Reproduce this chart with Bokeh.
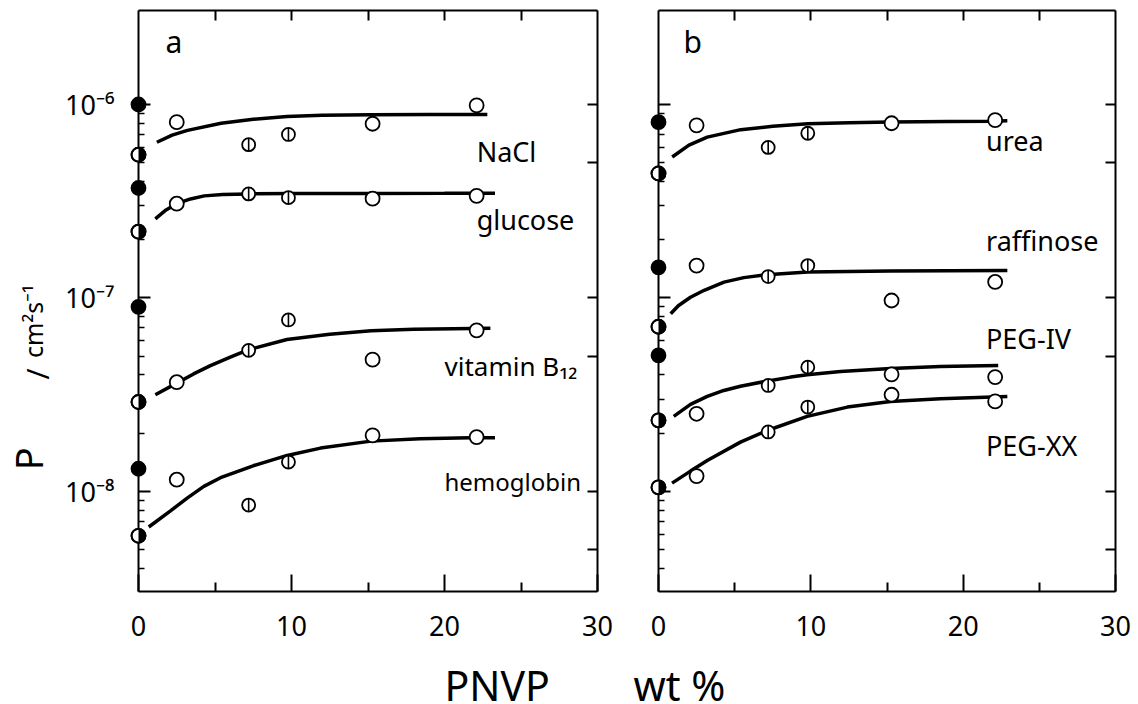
import math
from bokeh.plotting import figure
from bokeh.models import FixedTicker, LogAxis, LinearAxis, CustomJSTickFormatter
from bokeh.core.properties import value
from bokeh.layouts import row
from bokeh.embed import file_html
from bokeh.resources import INLINE

# ---------------- data ----------------
pnvp_wt = [2.5, 7.2, 9.8, 15.3, 22.1]                  # PNVP wt %
point_kind = ["open", "theta", "theta", "open", "open"]

# panel a
nacl_P = [8.1e-7, 6.2e-7, 7.0e-7, 7.95e-7, 9.9e-7]
nacl_zero_filled, nacl_zero_half = 1.0e-6, 5.5e-7
nacl_fit_x = [1.2, 2.2, 3.2, 5.4, 7.5, 9.7, 12.0, 15.2, 19.0, 22.8]
nacl_fit_P = [6.38e-7, 6.95e-7, 7.35e-7, 8.0e-7, 8.39e-7, 8.67e-7, 8.79e-7, 8.85e-7, 8.87e-7, 8.87e-7]

glucose_P = [3.07e-7, 3.45e-7, 3.3e-7, 3.26e-7, 3.37e-7]
glucose_zero_filled, glucose_zero_half = 3.7e-7, 2.2e-7
glucose_fit_x = [1.1, 1.8, 2.5, 3.4, 4.3, 5.5, 7.2, 10.0, 15.0, 20.0, 23.3]
glucose_fit_P = [2.565e-7, 2.85e-7, 3.07e-7, 3.25e-7, 3.37e-7, 3.43e-7, 3.45e-7, 3.47e-7, 3.47e-7, 3.475e-7, 3.48e-7]

vitb12_P = [3.67e-8, 5.36e-8, 7.7e-8, 4.8e-8, 6.8e-8]
vitb12_zero_filled, vitb12_zero_half = 9.0e-8, 2.9e-8
vitb12_fit_x = [1.1, 2.5, 3.6, 4.7, 6.0, 7.2, 9.7, 12.5, 15.2, 18.0, 20.6, 23.0]
vitb12_fit_P = [3.16e-8, 3.63e-8, 4.05e-8, 4.47e-8, 4.95e-8, 5.4e-8, 6.1e-8, 6.5e-8, 6.76e-8, 6.89e-8, 6.93e-8, 6.97e-8]

hemo_P = [1.15e-8, 8.5e-9, 1.42e-8, 1.95e-8, 1.91e-8]
hemo_zero_filled, hemo_zero_half = 1.31e-8, 5.9e-9
hemo_fit_x = [0.67, 2.09, 3.18, 4.27, 5.36, 7.54, 9.72, 11.9, 15.2, 18.4, 21.7, 23.3]
hemo_fit_P = [6.55e-9, 7.94e-9, 9.23e-9, 1.062e-8, 1.178e-8, 1.361e-8, 1.535e-8, 1.675e-8, 1.82e-8, 1.871e-8, 1.892e-8, 1.897e-8]

# panel b
urea_P = [7.8e-7, 6.0e-7, 7.1e-7, 8.0e-7, 8.3e-7]
urea_zero_filled, urea_zero_half = 8.1e-7, 4.4e-7
urea_fit_x = [0.9, 2.0, 3.2, 5.4, 7.5, 9.8, 12.5, 15.2, 19.0, 21.8, 22.9]
urea_fit_P = [5.35e-7, 6.17e-7, 6.78e-7, 7.41e-7, 7.71e-7, 7.94e-7, 8.04e-7, 8.11e-7, 8.17e-7, 8.2e-7, 8.24e-7]

raff_P = [1.47e-7, 1.29e-7, 1.47e-7, 9.7e-8, 1.21e-7]
raff_zero_filled, raff_zero_half = 1.44e-7, 7.1e-8
raff_fit_x = [0.8, 1.3, 2.1, 3.0, 4.3, 5.6, 7.1, 9.8, 15.2, 22.9]
raff_fit_P = [8.28e-8, 9.12e-8, 1.009e-7, 1.096e-7, 1.208e-7, 1.274e-7, 1.318e-7, 1.361e-7, 1.377e-7, 1.387e-7]

peg4_P = [2.52e-8, 3.53e-8, 4.39e-8, 4.03e-8, 3.9e-8]
peg4_zero_filled, peg4_zero_half = 5.05e-8, 2.33e-8
peg4_fit_x = [1.0, 2.1, 3.2, 4.29, 5.38, 7.09, 8.67, 9.76, 11.95, 15.23, 18.5, 22.3]
peg4_fit_P = [2.443e-8, 2.818e-8, 3.097e-8, 3.327e-8, 3.499e-8, 3.715e-8, 3.899e-8, 4.009e-8, 4.169e-8, 4.325e-8, 4.426e-8, 4.477e-8]

peg20_P = [1.2e-8, 2.03e-8, 2.73e-8, 3.16e-8, 2.92e-8]
peg20_zero_filled, peg20_zero_half = None, 1.05e-8
peg20_fit_x = [0.89, 2.1, 3.2, 5.38, 7.14, 9.76, 12.4, 15.23, 18.5, 22.9]
peg20_fit_P = [1.104e-8, 1.274e-8, 1.445e-8, 1.799e-8, 2.065e-8, 2.443e-8, 2.729e-8, 2.917e-8, 3.013e-8, 3.097e-8]

# axes / ticks
x_major_ticks = [0, 10, 20, 30]
x_minor_ticks = [5, 15, 25]
x_top_ticks = [5, 10, 15, 20, 25]
y_major_ticks = [1e-8, 1e-7, 1e-6]
y_major_labels = ["10\u207b\u2078", "10\u207b\u2077", "10\u207b\u2076"]
y_minor_ticks = ([k * 1e-9 for k in range(4, 10)] + [k * 1e-8 for k in range(2, 10)]
                 + [k * 1e-7 for k in range(2, 10)])
y_right_ticks = [5e-9, 1e-8, 5e-8, 1e-7, 5e-7, 1e-6]

FONT = "Noto Sans"
Y_RANGE = (3.04e-9, 3.06e-6)
BLANK = "return ''"


def make_fig(width, left, right, show_labels):
    p = figure(width=width, height=704, x_range=(0, 30), y_range=Y_RANGE,
               y_axis_type="log", output_backend="svg", toolbar_location=None,
               min_border_left=left, min_border_right=right,
               min_border_top=10, min_border_bottom=113)
    p.outline_line_color = None
    p.xgrid.visible = False
    p.ygrid.visible = False
    p.background_fill_color = "white"
    p.border_fill_color = "white"

    xb = p.xaxis[0]
    xb.ticker = FixedTicker(ticks=x_major_ticks, minor_ticks=x_minor_ticks)
    xb.major_tick_in, xb.major_tick_out = 17, 0
    xb.minor_tick_in, xb.minor_tick_out = 9, 0
    xb.axis_line_width = 2
    xb.major_tick_line_width = 2
    xb.minor_tick_line_width = 2
    xb.major_label_text_font = FONT
    xb.major_label_text_font_size = "27px"
    xb.major_label_text_color = "black"
    xb.major_label_standoff = 24

    yl = p.yaxis[0]
    yl.ticker = FixedTicker(ticks=y_major_ticks, minor_ticks=y_minor_ticks)
    yl.major_tick_in, yl.major_tick_out = 12, 0
    yl.minor_tick_in, yl.minor_tick_out = 6, 0
    yl.axis_line_width = 2
    yl.major_tick_line_width = 2
    yl.minor_tick_line_width = 1.5
    if show_labels:
        yl.major_label_overrides = dict(zip(y_major_ticks, y_major_labels))
        yl.major_label_text_font = FONT
        yl.major_label_text_font_size = "27px"
        yl.major_label_text_color = "black"
        yl.major_label_standoff = 24
    else:
        yl.formatter = CustomJSTickFormatter(code=BLANK)
        yl.major_label_standoff = 0

    top = LinearAxis(ticker=FixedTicker(ticks=x_top_ticks, minor_ticks=[]),
                     formatter=CustomJSTickFormatter(code=BLANK),
                     major_tick_in=10, major_tick_out=0, minor_tick_in=0, minor_tick_out=0,
                     axis_line_width=2, major_tick_line_width=2, major_label_standoff=0)
    p.add_layout(top, "above")
    right_ax = LogAxis(ticker=FixedTicker(ticks=y_right_ticks, minor_ticks=[]),
                       formatter=CustomJSTickFormatter(code=BLANK),
                       major_tick_in=10, major_tick_out=0, minor_tick_in=0, minor_tick_out=0,
                       axis_line_width=2, major_tick_line_width=2, major_label_standoff=0)
    p.add_layout(right_ax, "right")
    return p


def draw_series(p, fit_x, fit_P, pts, zero_filled, zero_half):
    p.line(fit_x, fit_P, line_width=3.5, line_color="black")
    ox = [x for x, k in zip(pnvp_wt, point_kind) if k == "open"]
    oy = [y for y, k in zip(pts, point_kind) if k == "open"]
    tx = [x for x, k in zip(pnvp_wt, point_kind) if k == "theta"]
    ty = [y for y, k in zip(pts, point_kind) if k == "theta"]
    p.scatter(ox, oy, marker="circle", size=14, fill_color="white",
              line_color="black", line_width=1.8, level="overlay")
    p.scatter(tx, ty, marker="circle", size=13, fill_color="white",
              line_color="black", line_width=1.8, level="overlay")
    p.scatter(tx, ty, marker="dash", size=13, angle=math.pi / 2,
              line_color="black", line_width=1.6, level="overlay")
    if zero_filled is not None:
        p.scatter([0], [zero_filled], marker="circle", size=14, fill_color="black",
                  line_color="black", line_width=1.8, level="overlay")
    if zero_half is not None:
        p.scatter([0], [zero_half], marker="circle", size=14, fill_color="black",
                  line_color="black", line_width=1.8, level="overlay")
        p.wedge([0], [zero_half], radius=6, radius_units="screen",
                start_angle=math.pi / 2, end_angle=3 * math.pi / 2,
                fill_color="white", line_color=None, level="overlay")
        p.scatter([0], [zero_half], marker="circle", size=14, fill_color=None,
                  line_color="black", line_width=1.8, level="overlay")


def text(p, x, y, s, size="27px", align="left", baseline="alphabetic", angle=0.0):
    p.text(x=[x], y=[y], text=[s], text_font=value(FONT), text_font_size=value(size),
           text_color="black", text_align=align, text_baseline=baseline,
           angle=angle, level="overlay")


pa = make_fig(628, 138, 31, True)
pb = make_fig(510, 30, 23, False)

draw_series(pa, nacl_fit_x, nacl_fit_P, nacl_P, nacl_zero_filled, nacl_zero_half)
draw_series(pa, glucose_fit_x, glucose_fit_P, glucose_P, glucose_zero_filled, glucose_zero_half)
draw_series(pa, vitb12_fit_x, vitb12_fit_P, vitb12_P, vitb12_zero_filled, vitb12_zero_half)
draw_series(pa, hemo_fit_x, hemo_fit_P, hemo_P, hemo_zero_filled, hemo_zero_half)

draw_series(pb, urea_fit_x, urea_fit_P, urea_P, urea_zero_filled, urea_zero_half)
draw_series(pb, raff_fit_x, raff_fit_P, raff_P, raff_zero_filled, raff_zero_half)
draw_series(pb, peg4_fit_x, peg4_fit_P, peg4_P, peg4_zero_filled, peg4_zero_half)
draw_series(pb, peg20_fit_x, peg20_fit_P, peg20_P, peg20_zero_filled, peg20_zero_half)

# panel letters and series names
text(pa, 1.76, 2.12e-6, "a", size="30px")
text(pa, 22.1, 5.74e-7, "NaCl")
text(pa, 22.1, 2.55e-7, "glucose")
text(pa, 20.0, 4.46e-8, "vitamin  B\u2081\u2082", size="26px")
text(pa, 20.0, 1.127e-8, "hemoglobin", size="24px")

text(pb, 1.64, 2.12e-6, "b", size="30px")
text(pb, 21.5, 6.52e-7, "urea")
text(pb, 21.5, 1.98e-7, "raffinose")
text(pb, 21.5, 6.18e-8, "PEG-IV")
text(pb, 21.5, 1.73e-8, "PEG-XX")

# axis titles
text(pa, -7.25, 1.285e-8, "P", size="38px", angle=math.pi / 2)
text(pa, -6.6, 4.05e-8, "/", size="30px", align="center", angle=math.pi / 2)
text(pa, -6.9, 4.9e-8, "cm\u00b2s\u207b\u00b9", size="25px", angle=math.pi / 2)
text(pa, 20.0, 9.94e-10, "PNVP", size="41px")
text(pb, -1.64, 9.94e-10, "wt %", size="41px")

layout = row(pa, pb)
open("out.html", "w").write(file_html(layout, INLINE))
